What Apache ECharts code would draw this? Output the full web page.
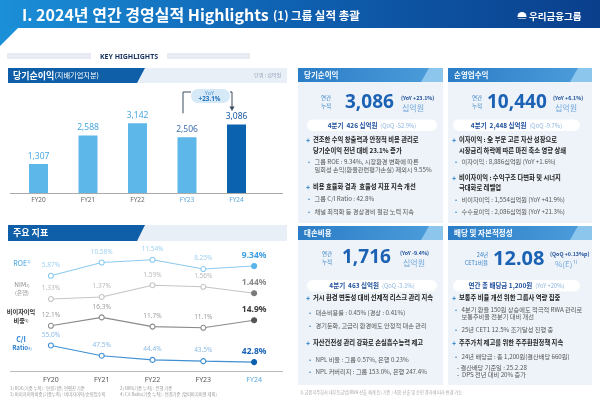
<!DOCTYPE html>
<html>
<head>
<meta charset="utf-8">
<script src="https://cdn.jsdelivr.net/npm/echarts@6/dist/echarts.min.js"></script>
<style>
html, body { margin: 0; padding: 0; background: #fff; }
#main { width: 600px; height: 399px; }
</style>
</head>
<body>
<div id="main"></div>
<script>
// data
var years = ['FY20', 'FY21', 'FY22', 'FY23', 'FY24'];
var netIncome = [1307, 2588, 3142, 2506, 3086];
var roe = [5.87, 10.58, 11.54, 8.25, 9.34];
var nim = [1.33, 1.37, 1.59, 1.56, 1.44];
var nonInterestShare = [12.1, 16.3, 11.7, 11.1, 14.9];
var ciRatio = [55.0, 47.5, 44.4, 43.5, 42.8];

var barColors = ['#5db7e9', '#5db7e9', '#5db7e9', '#5db7e9', '#0b63b0'];
var barLabelColors = ['#4aa8e2', '#4aa8e2', '#4aa8e2', '#3f6fae', '#1a58a4'];
var yearLabelColors = ['#666', '#666', '#666', '#5aa6dc', '#5aa6dc'];

var KR = '"Noto Sans CJK KR", "Noto Sans", sans-serif';

var chartDom = document.getElementById('main');
var myChart = echarts.init(chartDom, null, { renderer: 'canvas' });

function T(x, y, s, size, color, opt) {
  opt = opt || {};
  var al = opt.align || 'left';
  return {
    type: 'text', x: x, y: y, z: 20,
    style: {
      text: s, fill: color,
      font: (opt.bold ? 'bold ' : '') + size + 'px ' + (opt.family || KR),
      align: al, verticalAlign: 'middle',
      textAlign: al, textVerticalAlign: 'middle',
      rich: opt.rich
    }
  };
}
function R(x, y, w, h, fill, r, z) {
  return { type: 'rect', z: z || 1, shape: { x: x, y: y, width: w, height: h, r: r || 0 }, style: { fill: fill } };
}
function P(points, fill) {
  return { type: 'polygon', z: 2, shape: { points: points }, style: { fill: fill } };
}
function L(x1, y1, x2, y2, color) {
  return { type: 'line', z: 3, shape: { x1: x1, y1: y1, x2: x2, y2: y2 }, style: { stroke: color, lineWidth: 1 } };
}
function richFont(bold, size) { return (bold ? 'bold ' : '') + size + 'px ' + KR; }

var g = [];

// header band
g.push({
  type: 'rect', z: 1, shape: { x: 0, y: 0, width: 600, height: 28 },
  style: { fill: new echarts.graphic.LinearGradient(0, 0, 1, 0, [
    { offset: 0, color: '#1b8fd8' }, { offset: 0.45, color: '#0f63b3' }, { offset: 1, color: '#0a3f8c' }
  ]) }
});
g.push(P([[0, 27], [19, 27], [0, 46]], '#1b8fd8'));
g.push(T(22, 15, 'I. 2024년 연간 경영실적 Highlights', 16, '#fff', { bold: true }));
g.push(T(273, 16, '(1) 그룹 실적 총괄', 11.5, '#fff', { bold: true }));
g.push({ type: 'circle', z: 5, shape: { cx: 522, cy: 16.5, r: 4.5 }, style: { fill: '#fff' } });
g.push(R(516, 17, 12, 1.2, '#0b4590', 0, 6));
g.push(R(516, 18.8, 12, 3, '#0b4590', 0, 6));
g.push(T(529, 16, '우리금융그룹', 9.5, '#fff', { bold: true }));

// KEY HIGHLIGHTS
g.push(R(7, 53, 84, 6, '#e7ecf3'));
g.push(R(167, 53, 83, 6, '#e7ecf3'));
g.push(T(129, 56.5, 'KEY HIGHLIGHTS', 7, '#16315e', { bold: true, align: 'center', family: '"Noto Sans", sans-serif' }));

// left section headers
function leftHeader(y, h) {
  g.push(R(8, y, 279, h, '#e9eff7'));
  g.push(P([[8, y], [145, y], [137, y + h], [8, y + h]], '#0f5fa8'));
}
leftHeader(68, 15);
g.push(T(13, 75.5, '{a|당기순이익}{b|(지배기업지분)}', 9, '#fff', {
  rich: { a: { font: richFont(true, 9), fill: '#fff', color: '#fff' }, b: { font: richFont(false, 7.2), fill: '#fff', color: '#fff' } }
}));
g.push(T(281, 75.5, '단위 : 십억원', 5, '#8a9ab0', { align: 'right' }));
leftHeader(225, 16);
g.push(T(13, 233, '주요 지표', 9, '#fff', { bold: true }));

// axis lines
g.push(L(10, 193.5, 283, 193.5, '#aaaaaa'));
g.push(L(10, 371.5, 283, 371.5, '#bbbbbb'));

// indicator labels (left)
g.push(T(22, 263, '{a|ROE}{s|1)}', 7, '#3d9fe0', { align: 'center',
  rich: { a: { font: richFont(false, 7), fill: '#3d9fe0' }, s: { font: richFont(false, 4), fill: '#3d9fe0', verticalAlign: 'top' } } }));
g.push(T(22, 285, '{a|NIM}{s|2)}', 7, '#888', { align: 'center',
  rich: { a: { font: richFont(false, 6.5), fill: '#888' }, s: { font: richFont(false, 4), fill: '#888' } } }));
g.push(T(22, 292.5, '(은행)', 5.5, '#888', { align: 'center' }));
g.push(T(21, 312, '비이자이익', 6.2, '#333', { align: 'center', bold: true }));
g.push(T(21, 320.5, '{a|비중}{s|3)}', 6.2, '#333', { align: 'center',
  rich: { a: { font: richFont(true, 6.2), fill: '#333' }, s: { font: richFont(false, 4), fill: '#333' } } }));
g.push(T(21, 339, 'C/I', 7, '#2a7fd0', { align: 'center', bold: true }));
g.push(T(22, 348, '{a|Ratio}{s|4)}', 6.5, '#2a7fd0', { align: 'center',
  rich: { a: { font: richFont(true, 6.2), fill: '#2a7fd0' }, s: { font: richFont(false, 4), fill: '#2a7fd0' } } }));

// footnotes
g.push(T(10, 388.5, '1) ROE(기중 누적) : 연결기준, 연평잔 기준', 4.3, '#999'));
g.push(T(120, 388.5, '2) NIM(기중 누적) : 은행 기준', 4.3, '#999'));
g.push(T(10, 394.5, '3) 비이자이익비중(기중누적) : 비이자이익/순영업수익', 4.3, '#999'));
g.push(T(120, 394.5, '4) C/I Ratio(기중 누적) : 연결기준 (명퇴비지비용 제외)', 4.3, '#999'));

// right panels
function panel(x, y, w, h, title) {
  g.push(R(x, y + 14, w, h - 14, '#edf3f9'));
  g.push({
    type: 'rect', z: 1, shape: { x: x, y: y, width: w, height: 14 },
    style: { fill: new echarts.graphic.LinearGradient(0, 0, 1, 0, [
      { offset: 0, color: '#2a7cc6' }, { offset: 1, color: '#4f9fdc' }
    ]) }
  });
  g.push(P([[x + w - 14, y], [x + w, y], [x + w, y + 14], [x + w - 22, y + 14]], '#8cc6ec'));
  g.push(T(x + 6, y + 7.5, title, 7.5, '#fff', { bold: true }));
}
function bigBlock(lblX, lbl1, lbl2, lblAlign, numX, num, numSize, ny, tagX, tag, unitX, unit) {
  g.push(T(lblX, ny - 4.5, lbl1, 5.5, '#3a82c8', { align: lblAlign }));
  g.push(T(lblX, ny + 3.5, lbl2, 5.5, '#3a82c8', { align: lblAlign }));
  g.push(T(numX, ny, num, numSize, '#1b62b4', { bold: true, family: '"Noto Sans", sans-serif' }));
  g.push(T(tagX, ny - 5, tag, 5.3, '#1d4e98', { bold: true }));
  g.push(T(unitX, ny + 5, unit, 8, '#74a9dc'));
}
function pill(x1, x2, y, a, b) {
  g.push(R(x1, y, x2 - x1, 11.5, '#ffffff', 6));
  g.push(T((x1 + x2) / 2, y + 6, '{a|' + a + '}  {b|' + b + '}', 6.5, '#1d4f9c', { align: 'center',
    rich: { a: { font: richFont(true, 6.5), fill: '#1d4f9c' }, b: { font: richFont(false, 5.8), fill: '#8ab4de' } } }));
}
function head(x, y, s) {
  g.push(T(x, y, '+', 7, '#2a7cc6', { bold: true }));
  g.push(T(x + 7, y, s, 6.3, '#222', { bold: true }));
}
function headCont(x, y, s) { g.push(T(x + 7, y, s, 6.3, '#222', { bold: true })); }
function sub(x, y, s) {
  g.push(T(x, y, '•', 6, '#2a7cc6'));
  g.push(T(x + 6.5, y, s, 6.2, '#555'));
}
function subCont(x, y, s) { g.push(T(x + 6.5, y, s, 6.2, '#555')); }

// panel 1
panel(298, 68, 145, 155, '당기순이익');
bigBlock(326, '연간', '누적', 'center', 345, '3,086', 19, 102.5, 401, '(YoY +23.1%)', 402, '십억원');
pill(307, 437, 119.5, '4분기  426 십억원', '(QoQ -52.9%)');
head(306, 140, '견조한 수익 창출력과 안정적 비용 관리로');
headCont(306, 151, '당기순이익 전년 대비 23.1% 증가');
sub(308, 162, '그룹 ROE : 9.34%, 시장환경 변화에 따른');
subCont(308, 170, '일회성 손익(환율관련평가손실) 제외시 9.55%');
head(306, 187, '비용 효율화 결과  효율성 지표 지속 개선');
sub(308, 199, '그룹 C/I Ratio : 42.8%');
sub(308, 212, '채널 최적화 등 경상경비 절감 노력 지속');

// panel 2
panel(448, 68, 144, 155, '순영업수익');
bigBlock(477, '연간', '누적', 'center', 487, '10,440', 19, 102.5, 553, '(YoY +6.1%)', 555, '십억원');
pill(453, 580, 119.5, '4분기  2,448 십억원', '(QoQ -9.7%)');
head(452, 140, '이자이익 : 全 부문 고른 자산 성장으로');
headCont(452, 151, '시장금리 하락에 따른 마진 축소 영향 상쇄');
sub(455, 162, '이자이익 : 8,886십억원 (YoY +1.6%)');
head(452, 178, '비이자이익 : 수익구조 다변화 및 시너지');
headCont(452, 188, '극대화로 레벨업');
sub(455, 200, '비이자이익 : 1,554십억원 (YoY +41.9%)');
sub(455, 212, '수수료이익 : 2,086십억원 (YoY +21.3%)');

// panel 3
panel(298, 226, 145, 159, '대손비용');
bigBlock(327, '연간', '누적', 'center', 342, '1,716', 19, 258, 400, '(YoY -9.4%)', 403, '십억원');
pill(307, 437, 280, '4분기  463 십억원', '(QoQ -3.1%)');
head(306, 298, '거시 환경 변동성 대비 선제적 리스크 관리 지속');
sub(309, 313, '대손비용률 : 0.45% (경상 : 0.41%)');
sub(309, 326, '경기둔화, 고금리 환경에도 안정적 대손 관리');
head(306, 343, '자산건전성 관리 강화로 손실흡수능력 제고');
sub(309, 360, 'NPL 비율 : 그룹 0.57%, 은행 0.23%');
sub(309, 372, 'NPL 커버리지 : 그룹 153.0%, 은행 247.4%');

// panel 4
panel(448, 226, 144, 159, '배당 및 자본적정성');
bigBlock(488, '24년', 'CET1비율', 'right', 493, '12.08', 20, 259, 550, '(QoQ +0.13%p)', 555, '%(E)¹⁾');
pill(453, 580, 280, '연간 총 배당금 1,200원', '(YoY +20%)');
head(452, 298, '보통주 비율 개선 위한 그룹사 역량 집중');
sub(455, 310, '4분기 환율 150원 상승에도 적극적 RWA 관리로');
subCont(455, 317, '보통주비율 전분기 대비 개선');
sub(455, 330, '25년 CET1 12.5% 조기달성 진행 중');
head(452, 343, '주주가치 제고를 위한 주주환원정책 지속');
sub(455, 357, '24년 배당금 : 총 1,200원(결산배당 660원)');
g.push(T(457, 368, '- 결산배당 기준일 : 25.2.28', 6.2, '#555'));
g.push(T(457, 375, '-  DPS 전년 대비 20% 증가', 6.2, '#555'));
g.push(T(300, 392, '1) 금융지주회사 내부등급법(RWA 산출 체계 등) 기준 / 최종 산출 및 승인 결과에 따라 변경 가능', 4.2, '#aaa'));

function fmtComma(v) { return String(v).replace(/\B(?=(\d{3})+(?!\d))/g, ','); }

function lineSeries(name, vals, yIdx, lineColor, labelColor, lastLabelColor, lastFill, digits) {
  return {
    name: name, type: 'line', xAxisIndex: 1, yAxisIndex: yIdx,
    symbol: 'circle', symbolSize: 5, z: 5,
    lineStyle: { color: lineColor, width: 1.1 },
    itemStyle: { color: '#fff', borderColor: lineColor, borderWidth: 1.1 },
    label: {
      show: true, position: 'top', distance: 4,
      color: labelColor, fontSize: 6.5, fontFamily: '"Noto Sans", sans-serif',
      formatter: function (p) { return p.value.toFixed(digits) + '%'; }
    },
    data: vals.map(function (v, i) {
      if (i < vals.length - 1) return v;
      return {
        value: v,
        itemStyle: { color: lastFill, borderColor: lastFill },
        label: { color: lastLabelColor, fontSize: 8.5, fontWeight: 'bold', distance: 3 }
      };
    })
  };
}

var option = {
  animation: false,
  backgroundColor: '#fff',
  grid: [
    { left: 13.75, top: 82, width: 247.5, height: 111 },
    { left: 25.5, top: 250, width: 254, height: 120 }
  ],
  xAxis: [
    {
      gridIndex: 0, type: 'category', data: years,
      axisLine: { show: false }, axisTick: { show: false },
      axisLabel: {
        margin: 4, fontSize: 6.5, fontFamily: '"Noto Sans", sans-serif',
        formatter: function (v, i) { return '{c' + i + '|' + v + '}'; },
        rich: {
          c0: { color: yearLabelColors[0] }, c1: { color: yearLabelColors[1] }, c2: { color: yearLabelColors[2] },
          c3: { color: yearLabelColors[3] }, c4: { color: yearLabelColors[4] }
        }
      }
    },
    {
      gridIndex: 1, type: 'category', data: years,
      axisLine: { show: false }, axisTick: { show: false },
      axisLabel: {
        margin: 6, fontSize: 7, fontFamily: '"Noto Sans", sans-serif',
        formatter: function (v, i) { return i === 4 ? '{b|' + v + '}' : '{a|' + v + '}'; },
        rich: { a: { color: '#555', fontSize: 7 }, b: { color: '#5aa6dc', fontSize: 7 } }
      }
    }
  ],
  yAxis: [
    { gridIndex: 0, type: 'value', min: 0, max: 5000, show: false },
    { gridIndex: 1, type: 'value', min: -27.5, max: 15, show: false },
    { gridIndex: 1, type: 'value', min: 0, max: 2.25, show: false },
    { gridIndex: 1, type: 'value', min: -10, max: 50, show: false },
    { gridIndex: 1, type: 'value', min: 37, max: 125, show: false }
  ],
  series: [
    {
      name: '당기순이익', type: 'bar', xAxisIndex: 0, yAxisIndex: 0,
      barWidth: 19,
      label: {
        show: true, position: 'top', distance: 3, fontSize: 8.5,
        fontFamily: '"Noto Sans", sans-serif',
        formatter: function (p) { return fmtComma(p.value); }
      },
      data: netIncome.map(function (v, i) {
        return { value: v, itemStyle: { color: barColors[i] }, label: { color: barLabelColors[i] } };
      })
    },
    lineSeries('ROE', roe, 1, '#8ccbef', '#9fd2f1', '#3d9fe0', '#5ab4ea', 2),
    lineSeries('NIM', nim, 2, '#c4c4c4', '#bbbbbb', '#8a8a8a', '#7a7a7a', 2),
    lineSeries('비이자이익 비중', nonInterestShare, 3, '#8a8a8a', '#a0a0a0', '#3a3a3a', '#555555', 1),
    lineSeries('C/I Ratio', ciRatio, 4, '#3f8fd2', '#8cbbe6', '#1560b8', '#0b5fb0', 1)
  ],
  graphic: g
};

myChart.setOption(option);

// YoY bracket between FY23 and FY24 bars
var p23 = myChart.convertToPixel({ xAxisIndex: 0, yAxisIndex: 0 }, ['FY23', netIncome[3]]);
var p24 = myChart.convertToPixel({ xAxisIndex: 0, yAxisIndex: 0 }, ['FY24', netIncome[4]]);
var lx = p23[0] - 4, rx = p24[0] - 4.5, ty = 92;
var yoy = (netIncome[4] / netIncome[3] - 1) * 100;
var ext = [
  { type: 'polyline', z: 6, shape: { points: [[lx, p23[1] - 24], [lx, ty], [lx + 8, ty]] }, style: { stroke: '#3a4a60', lineWidth: 1, fill: null } },
  { type: 'polyline', z: 6, shape: { points: [[rx - 2, ty], [rx, ty], [rx, p24[1] - 17]] }, style: { stroke: '#3a4a60', lineWidth: 1, fill: null } },
  P([[rx - 2.5, p24[1] - 18], [rx + 2.5, p24[1] - 18], [rx, p24[1] - 13.5]], '#3a4a60'),
  R(lx + 8, 89, rx - lx - 10, 14, '#d5e9f7', 7),
  T((lx + rx) / 2 + 2, 93, 'YoY', 5.5, '#4a90cf', { align: 'center', family: '"Noto Sans", sans-serif' }),
  T((lx + rx) / 2 + 2, 99.5, '+' + yoy.toFixed(1) + '%', 6.3, '#2270bd', { align: 'center', bold: true, family: '"Noto Sans", sans-serif' })
];
myChart.setOption({ graphic: g.concat(ext) });
</script>
</body>
</html>
